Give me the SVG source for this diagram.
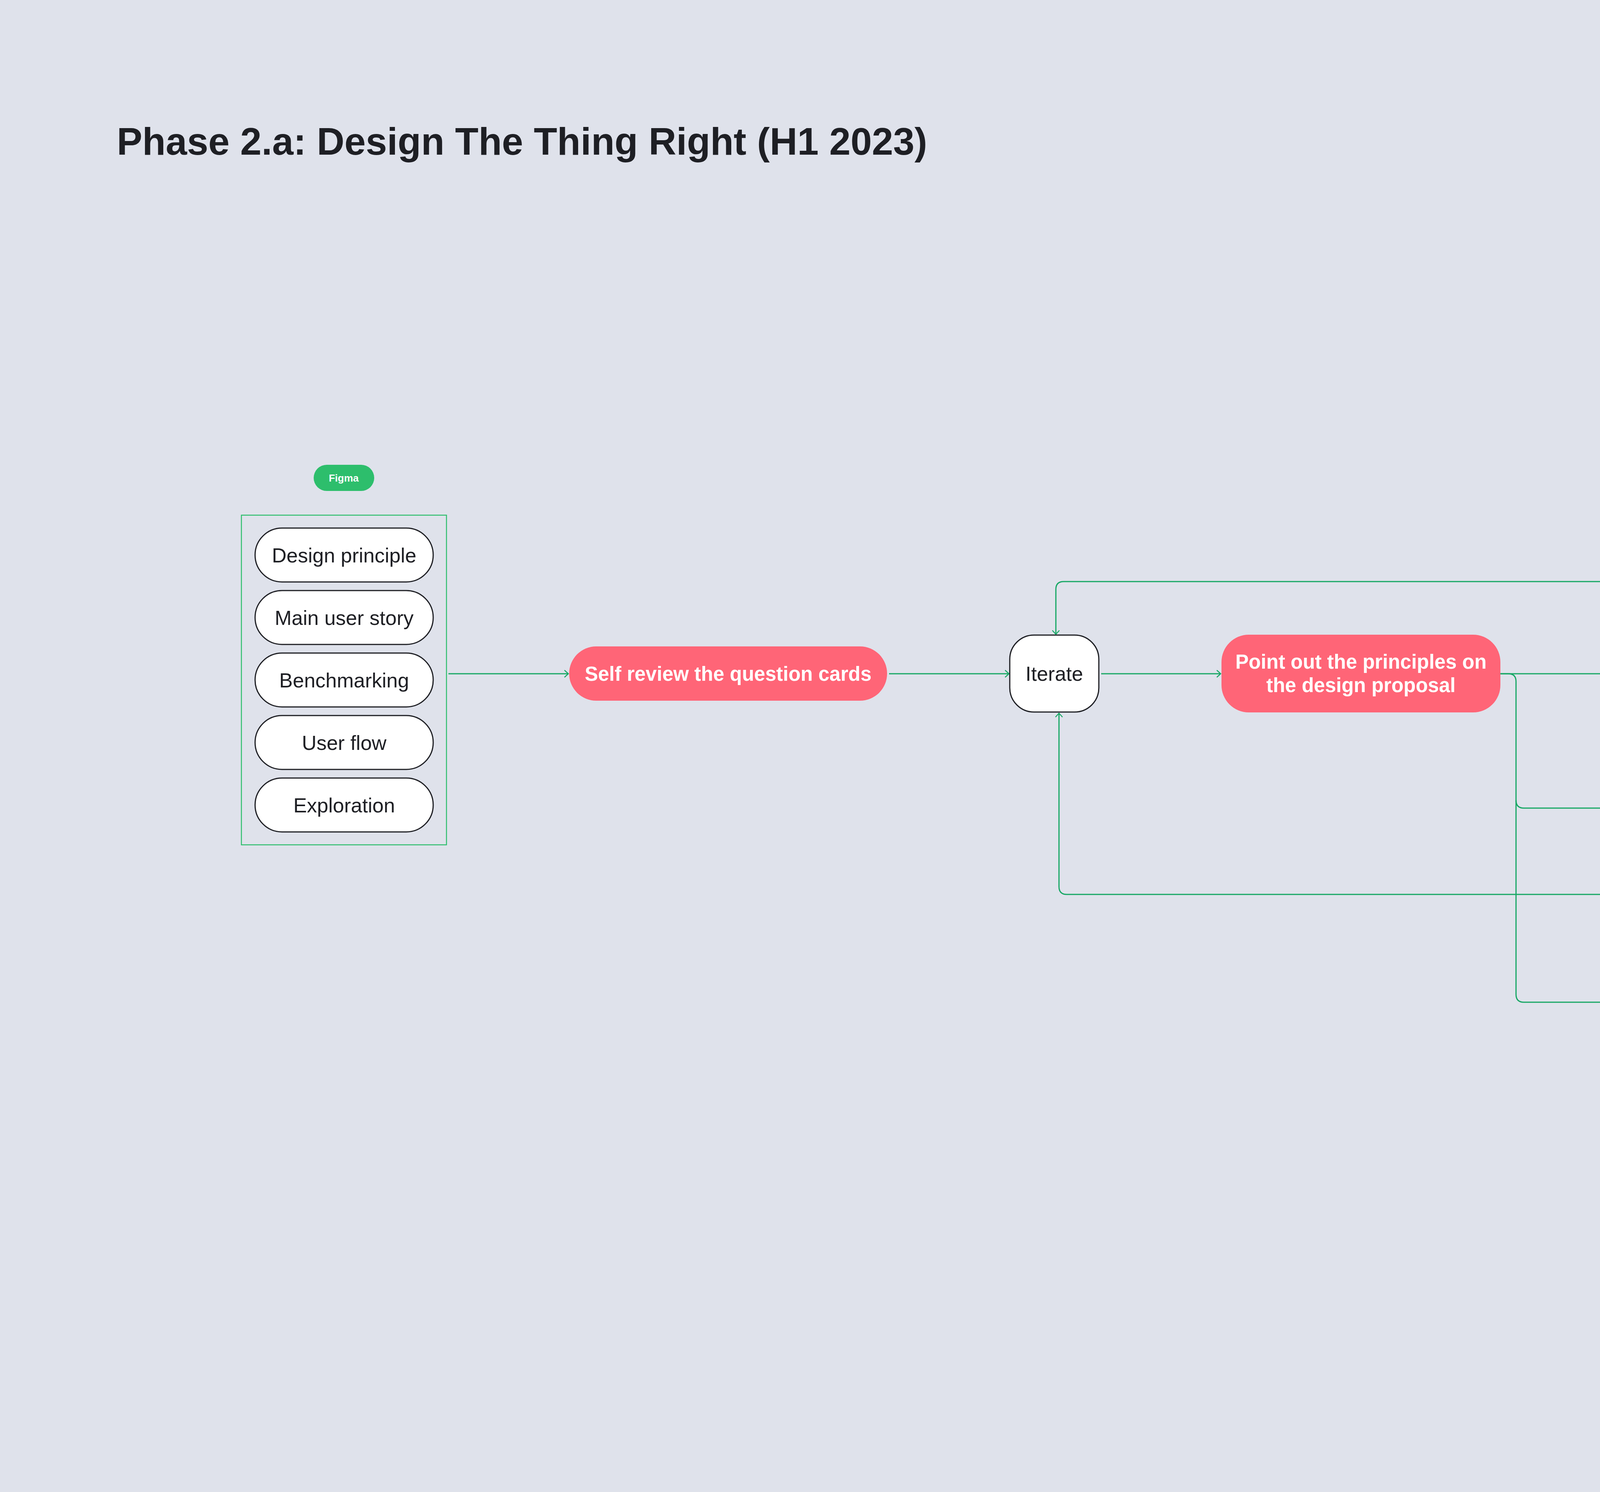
<svg xmlns="http://www.w3.org/2000/svg" width="6112" height="3820" viewBox="0 0 6112 3820">
<style>
.bg{fill:#dfe2eb}
.title{font-family:"Liberation Sans",Arial,sans-serif;font-weight:700;font-size:98px;fill:#1e1f24}
.pill{fill:#ffffff;stroke:#1e1f24;stroke-width:3}
.red{fill:#ff6577}
.t{font-family:"Liberation Sans",Arial,sans-serif;font-size:52px;fill:#1e1f24;text-anchor:middle}
.tw{font-family:"Liberation Sans",Arial,sans-serif;font-weight:700;font-size:51px;fill:#ffffff;text-anchor:middle}
.conn{fill:none;stroke:#16a764;stroke-width:3}
.connr{fill:none;stroke:#ff6577;stroke-width:3}
</style>
<defs>
<marker id="ag" markerUnits="userSpaceOnUse" markerWidth="24" markerHeight="24" refX="12" refY="10" orient="auto" viewBox="0 0 24 24">
<path d="M2,1 L12,10 L2,19" fill="none" stroke="#16a764" stroke-width="2.5"/>
</marker>
<marker id="ar" markerUnits="userSpaceOnUse" markerWidth="24" markerHeight="24" refX="12" refY="10" orient="auto" viewBox="0 0 24 24">
<path d="M2,1 L12,10 L2,19" fill="none" stroke="#ff6577" stroke-width="2.5"/>
</marker>
</defs>
<rect class="bg" x="0" y="0" width="6112" height="3820"/>
<text class="title" x="299" y="396">Phase 2.a: Design The Thing Right (H1 2023)</text>

<g id="connectors">
<path class="conn" d="M1148,1725 H1455" marker-end="url(#ag)"/>
<path class="conn" d="M2276,1725 H2583" marker-end="url(#ag)"/>
<path class="conn" d="M2819,1725 H3125" marker-end="url(#ag)"/>
<path class="conn" d="M3841,1725 H4155" marker-end="url(#ag)"/>
<path class="conn" d="M3841,1725 H3861 Q3881,1725 3881,1745 V2546 Q3881,2566 3901,2566 H4155" marker-end="url(#ag)"/>
<path class="conn" d="M3881,2049 Q3881,2069 3901,2069 H4155" marker-end="url(#ag)"/>
<path class="conn" d="M4346,1625 V1509 Q4346,1489 4326,1489 H2723 Q2703,1489 2703,1509 V1624" marker-end="url(#ag)"/>
<path class="conn" d="M4356,2128 V2270 Q4356,2290 4336,2290 H2731 Q2711,2290 2711,2270 V1826" marker-end="url(#ag)"/>
<path class="connr" d="M4638,1877 H4946" marker-end="url(#ar)"/>
</g>

<g id="figma-badge">
<rect x="803" y="1190" width="155" height="67" rx="33.5" fill="#2dbe6c"/>
<text x="880" y="1233" font-family="Liberation Sans, Arial, sans-serif" font-weight="700" font-size="26" fill="#ffffff" text-anchor="middle">Figma</text>
</g>

<g id="inputs-group">
<rect x="618" y="1319" width="525" height="844" fill="none" stroke="#2dbe6c" stroke-width="2.5"/>
</g>
<g id="design-principle">
<rect class="pill" x="653" y="1352" width="456" height="138" rx="69"/>
<text class="t" x="881" y="1440">Design principle</text>
</g>
<g id="main-user-story">
<rect class="pill" x="653" y="1512" width="456" height="138" rx="69"/>
<text class="t" x="881" y="1600">Main user story</text>
</g>
<g id="benchmarking">
<rect class="pill" x="653" y="1672" width="456" height="138" rx="69"/>
<text class="t" x="881" y="1760">Benchmarking</text>
</g>
<g id="user-flow">
<rect class="pill" x="653" y="1832" width="456" height="138" rx="69"/>
<text class="t" x="881" y="1920">User flow</text>
</g>
<g id="exploration">
<rect class="pill" x="653" y="1992" width="456" height="138" rx="69"/>
<text class="t" x="881" y="2080">Exploration</text>
</g>

<g id="self-review">
<rect class="red" x="1457" y="1655" width="814" height="139" rx="69.5"/>
<text class="tw" x="1864" y="1743">Self review the question cards</text>
</g>

<g id="iterate">
<rect class="pill" x="2585" y="1626" width="228" height="197" rx="62"/>
<text class="t" x="2699" y="1743">Iterate</text>
</g>

<g id="point-out">
<rect class="red" x="3127" y="1625" width="714" height="199" rx="70"/>
<text class="tw" x="3484" y="1712">Point out the principles on</text>
<text class="tw" x="3484" y="1772">the design proposal</text>
</g>

<g id="review-group">
<path d="M4122,1592 H4632 M4122,2161 H4632" fill="none" stroke="#f0899a" stroke-width="2" stroke-dasharray="10 7"/>
<path d="M4122,1592 V2161 M4632,1592 V2161" fill="none" stroke="#a3a6ae" stroke-width="2" stroke-dasharray="16 10"/>
</g>

<g id="design-review">
<rect class="pill" x="4157" y="1625" width="441" height="199" rx="70"/>
<text class="t" x="4377" y="1712">Design review/</text>
<text class="t" x="4377" y="1772">Design critic</text>
</g>

<g id="validate">
<rect class="pill" x="4157" y="1990" width="441" height="138" rx="69"/>
<text class="t" x="4377" y="2078">Validate to user</text>
</g>

<g id="done">
<rect class="pill" x="4157" y="2490" width="596" height="139" rx="69.5"/>
<text class="t" x="4455" y="2578">Done ready to handoff</text>
</g>

<g id="use-question-cards">
<rect class="red" x="4948" y="1807" width="544" height="140" rx="70"/>
<text class="tw" x="5220" y="1895">Use question cards</text>
</g>
</svg>
